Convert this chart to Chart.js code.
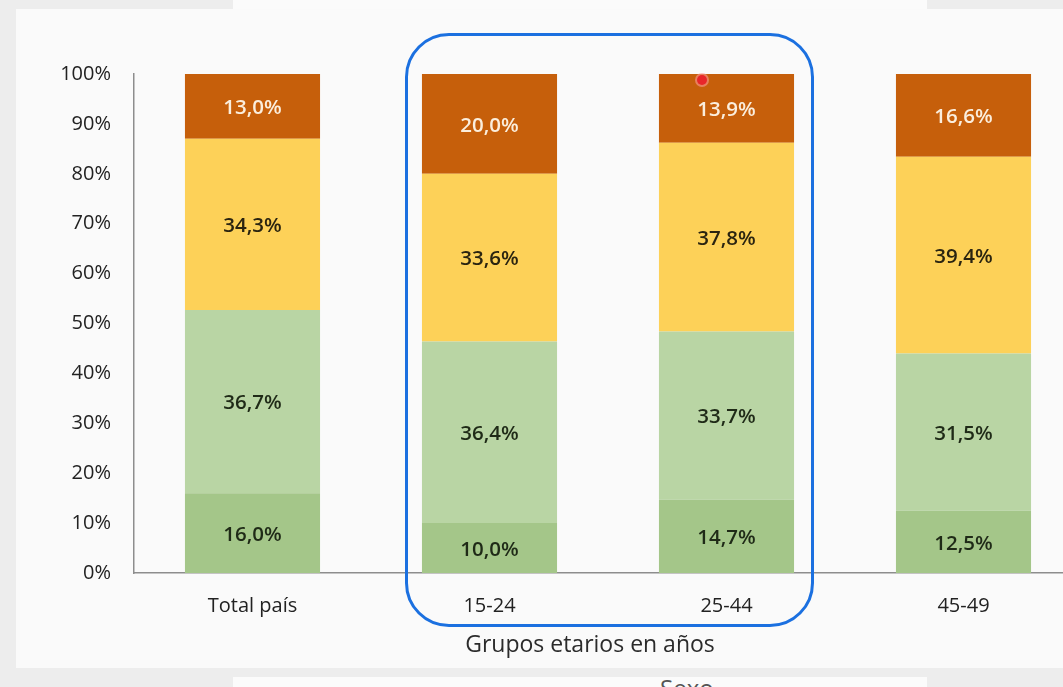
<!DOCTYPE html>
<html>
<head>
<meta charset="utf-8">
<script src="https://cdn.jsdelivr.net/npm/chart.js@4"></script>
<style>
  html, body { margin: 0; padding: 0; width: 1063px; height: 687px; overflow: hidden; background: #ededed; position: relative; font-family: "Open Sans", sans-serif; }
  .panel { position: absolute; left: 16px; top: 9px; width: 1047px; height: 659px; background: #fafafa; }
  .strip-top { position: absolute; left: 233px; top: 0; width: 694px; height: 9px; background: #fbfbfb; }
  .strip-bot { position: absolute; left: 233px; top: 677px; width: 694px; height: 10px; background: #fbfbfb; overflow: hidden; }
  .sexo { position: absolute; left: 427px; top: -1px; font-size: 24px; color: #555; line-height: 1; }
  .xtitle { position: absolute; left: 0; width: 1180px; top: 629px; text-align: center; font-size: 23px; line-height: 28px; color: #2b2b2b; }
  #c { position: absolute; left: 0; top: 0; }
  .ring { position: absolute; left: 405px; top: 33px; width: 403px; height: 588px; border: 3.5px solid #1b70e0; border-radius: 44px; pointer-events: none; }
  .dot { position: absolute; left: 697px; top: 75px; width: 10px; height: 10px; border-radius: 50%; background: #e8262a; box-shadow: 0 0 0 2px rgba(255,150,150,0.6); }
</style>
</head>
<body>
<div class="panel"></div>
<div class="strip-top"></div>
<div class="strip-bot"><div class="sexo">Sexo</div></div>
<canvas id="c" width="1082" height="687"></canvas>
<div class="xtitle" id="xt"></div>
<div class="ring"></div>
<div class="dot"></div>
<script>
const categories = ["Total país", "15-24", "25-44", "45-49"];
const serie1 = [16.0, 10.0, 14.7, 12.5];
const serie2 = [36.7, 36.4, 33.7, 31.5];
const serie3 = [34.3, 33.6, 37.8, 39.4];
const serie4 = [13.0, 20.0, 13.9, 16.6];
const yTicks = [0, 10, 20, 30, 40, 50, 60, 70, 80, 90, 100];
const axisTitle = "Grupos etarios en años";

document.getElementById('xt').textContent = axisTitle;

const colors = ["#a4c689", "#b9d5a4", "#fdd158", "#c65f0b"];
const labelColors = ["#1f2a17", "#1f2a17", "#2a2410", "#fbeedd"];

const labelPlugin = {
  id: 'segLabels',
  afterDatasetsDraw(chart) {
    const ctx = chart.ctx;
    ctx.save();
    ctx.font = '600 20.5px "Open Sans", sans-serif';
    ctx.textAlign = 'center';
    ctx.textBaseline = 'middle';
    chart.data.datasets.forEach((ds, i) => {
      const meta = chart.getDatasetMeta(i);
      meta.data.forEach((bar, j) => {
        const v = ds.data[j];
        const yc = (bar.y + bar.base) / 2;
        ctx.fillStyle = labelColors[i];
        ctx.fillText(v.toFixed(1).replace('.', ',') + '%', bar.x, yc + 2);
      });
    });
    ctx.restore();
  }
};

new Chart(document.getElementById('c'), {
  type: 'bar',
  data: {
    labels: categories,
    datasets: [serie1, serie2, serie3, serie4].map((d, i) => ({
      data: d,
      backgroundColor: colors[i],
      borderWidth: 0,
      categoryPercentage: 1,
      barPercentage: 0.57
    }))
  },
  options: {
    responsive: false,
    animation: false,
    layout: { padding: { top: 74, left: 0, right: 0, bottom: 0 } },
    plugins: { legend: { display: false }, tooltip: { enabled: false } },
    scales: {
      x: {
        stacked: true,
        grid: { display: false, drawTicks: false },
        border: { display: true, color: '#8d8d8d', width: 1.5 },
        ticks: { color: '#222', font: { family: 'Open Sans', size: 20 }, padding: 21 },
        afterFit(scale) { scale.height = 114; }
      },
      y: {
        stacked: true,
        min: 0, max: 100,
        afterBuildTicks(scale) { scale.ticks = yTicks.map(v => ({ value: v })); },
        grid: { display: false, drawTicks: false },
        border: { display: true, color: '#8d8d8d', width: 1.5 },
        ticks: { color: '#222', font: { family: 'Open Sans', size: 20 }, padding: 23, callback: v => v + '%' },
        afterFit(scale) { scale.width = 134; }
      }
    }
  },
  plugins: [labelPlugin]
});
</script>
</body>
</html>
